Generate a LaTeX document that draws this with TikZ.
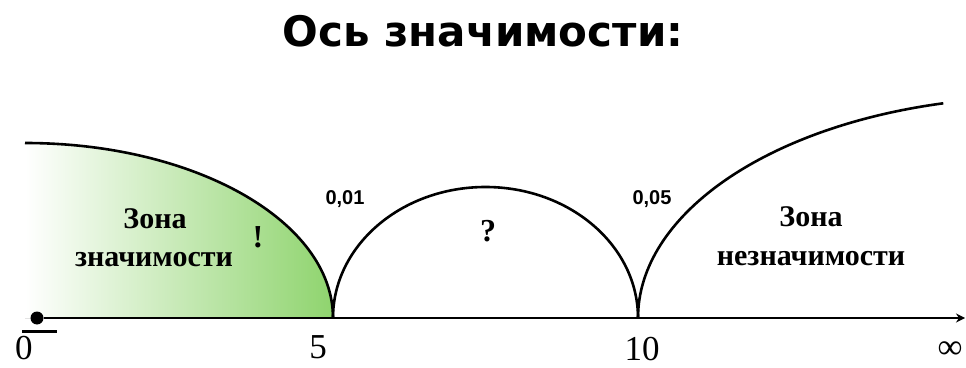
\documentclass[tikz,border=0pt]{standalone}
\usepackage{fontspec}
\setmainfont{Liberation Serif}
\newfontfamily\headfont{DejaVu Sans}
\newfontfamily\pvalfont{Liberation Sans}
\usetikzlibrary{arrows.meta}
\definecolor{zonecol}{RGB}{143,212,110}

\begin{document}
\begin{tikzpicture}[
  x=1pt, y=1pt,
  curve/.style={line width=2.6pt, black},
  dotnode/.style={circle, fill=black, inner sep=0pt, minimum size=13pt},
  zonelbl/.style={font=\bfseries\fontsize{30}{32}\selectfont, anchor=base, inner sep=0pt},
  signlbl/.style={font=\bfseries\fontsize{32}{34}\selectfont, anchor=base, inner sep=0pt},
  pval/.style={font=\pvalfont\bfseries\fontsize{20}{22}\selectfont, anchor=base, inner sep=0pt},
  ticklbl/.style={font=\fontsize{35}{38}\selectfont, anchor=base, inner sep=0pt}
]
  \useasboundingbox (0,0) rectangle (966,367);

  % title
  \node[anchor=base, inner sep=0pt, font=\headfont\bfseries\fontsize{42}{46}\selectfont]
    (title) at (483,320) {Ось значимости:};

  % points on the axis
  \coordinate (p5)  at (333,49);
  \coordinate (p10) at (638,49);
  \coordinate (inf) at (965,49);

  % zone of significance
  \fill[left color=white, right color=zonecol]
    (25,49) -- (25,224) arc[start angle=90, end angle=0, x radius=308, y radius=175] -- cycle;
  \draw[curve] (25,224) arc[start angle=90, end angle=0, x radius=308, y radius=175];

  % arches
  \draw[curve] (p5) arc[start angle=180, end angle=0, x radius=152.5, y radius=131];
  \draw[curve] (p10) arc[start angle=180, end angle=103.7, x radius=400, y radius=221];

  % axis
  \node[dotnode] (o) at (37,49) {};
  \draw[curve, -{Stealth[length=9pt, width=9pt]}] (o) -- (inf);
  \draw[line width=3pt] (22,36) -- (57,36);

  % axis labels
  \node[ticklbl] (t0)   at (24,8)  {0};
  \node[ticklbl] (t5)   at (318,9) {5};
  \node[ticklbl] (t10)  at (642,7) {10};
  \node[ticklbl] (tinf) at (950,9) {∞};

  % zone labels
  \node[zonelbl] (zl1) at (155,139) {Зона};
  \node[zonelbl] (zl2) at (154,101) {значимости};
  \node[signlbl] (excl) at (258,120) {!};
  \node[signlbl] (quest) at (488,125) {?};
  \node[pval] (a01) at (345,162) {0,01};
  \node[pval] (a05) at (652,162) {0,05};
  \node[zonelbl] (zr1) at (811,140) {Зона};
  \node[zonelbl] (zr2) at (811,102) {незначимости};
\end{tikzpicture}
\end{document}
